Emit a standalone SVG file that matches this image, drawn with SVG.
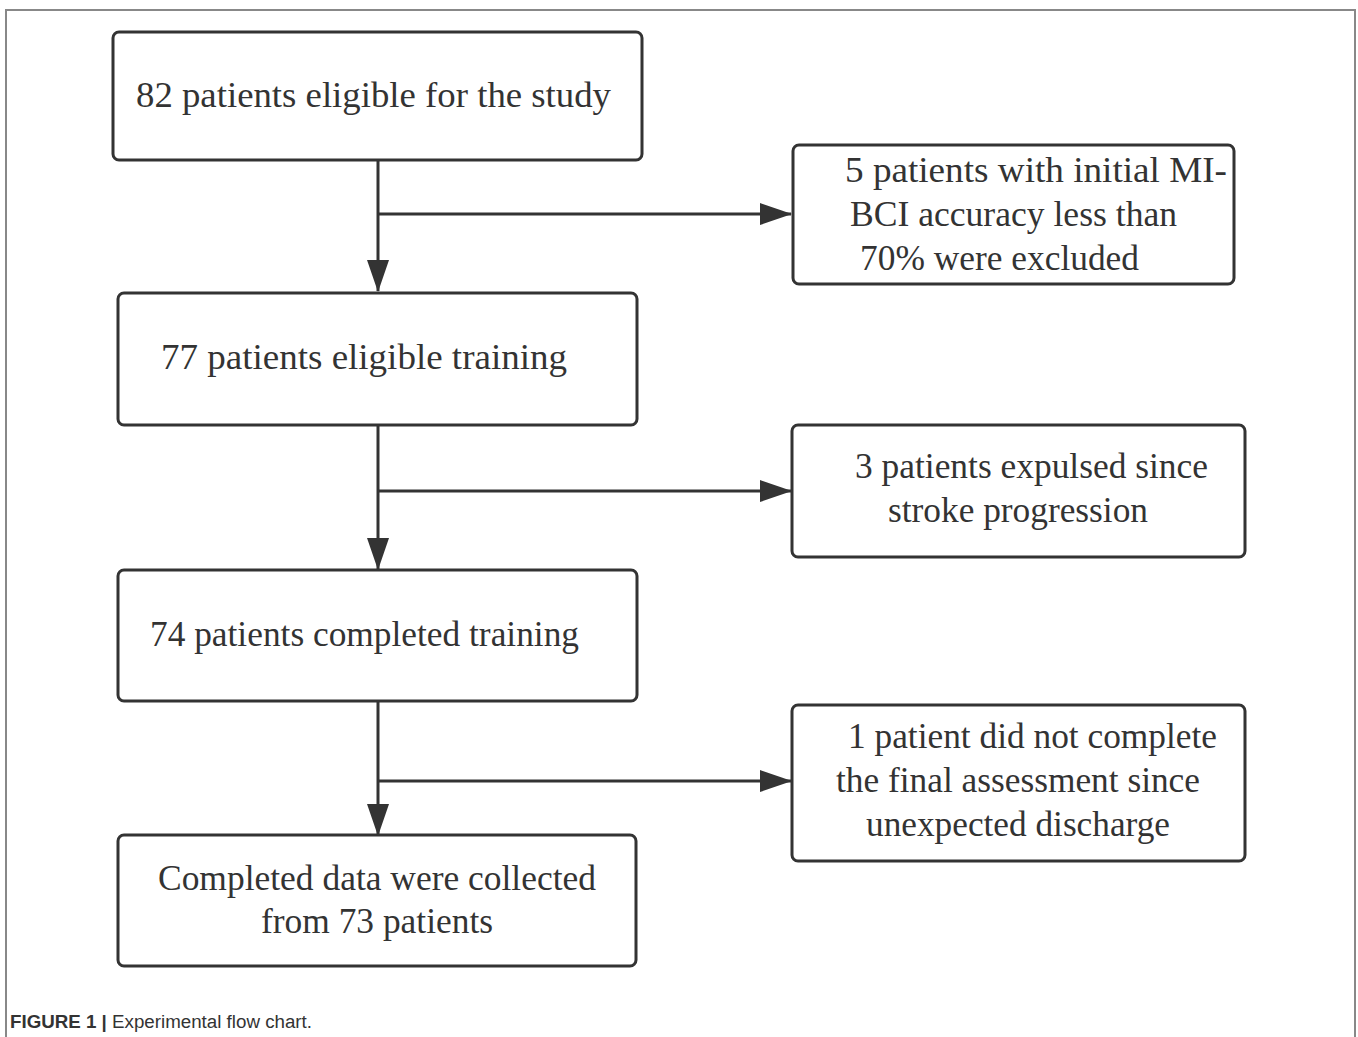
<svg xmlns="http://www.w3.org/2000/svg" width="1358" height="1037" viewBox="0 0 1358 1037">
<style>
.box{fill:#fff;stroke:#333;stroke-width:3}
.t{font-family:"Liberation Serif","Times New Roman",serif;font-size:35px;fill:#333}
.c{stroke:#333;stroke-width:3;fill:none}
.frame{stroke:#888;stroke-width:2;fill:none}
.cap{font-family:"Liberation Sans",Arial,sans-serif;font-size:18px;fill:#333}
</style>
<defs>
<marker id="arr" viewBox="0 0 32 22" markerWidth="32" markerHeight="22" refX="31" refY="11" orient="auto" markerUnits="userSpaceOnUse">
<path d="M0,0 L32,11 L0,22 z" fill="#333"/>
</marker>
</defs>
<rect width="1358" height="1037" fill="#fff"/>
<path class="frame" d="M6,1037 V10 H1355 V1037"/>
<g id="connectors">
<path class="c" d="M378,160 V291" marker-end="url(#arr)"/>
<path class="c" d="M378,214 H791" marker-end="url(#arr)"/>
<path class="c" d="M378,425 V569" marker-end="url(#arr)"/>
<path class="c" d="M378,491 H791" marker-end="url(#arr)"/>
<path class="c" d="M378,701 V835" marker-end="url(#arr)"/>
<path class="c" d="M378,781 H791" marker-end="url(#arr)"/>
</g>
<g id="n1">
<rect class="box" x="113" y="32" width="529" height="128" rx="6"/>
<text class="t" x="136" y="107" textLength="475" lengthAdjust="spacingAndGlyphs">82 patients eligible for the study</text>
</g>
<g id="n2">
<rect class="box" x="793" y="145" width="441" height="139" rx="6"/>
<text class="t" x="845" y="182" textLength="382" lengthAdjust="spacingAndGlyphs">5 patients with initial MI-</text>
<text class="t" x="850" y="226" textLength="327" lengthAdjust="spacingAndGlyphs">BCI accuracy less than</text>
<text class="t" x="860" y="270" textLength="279" lengthAdjust="spacingAndGlyphs">70% were excluded</text>
</g>
<g id="n3">
<rect class="box" x="118" y="293" width="519" height="132" rx="6"/>
<text class="t" x="161" y="369" textLength="406" lengthAdjust="spacingAndGlyphs">77 patients eligible training</text>
</g>
<g id="n4">
<rect class="box" x="792" y="425" width="453" height="132" rx="6"/>
<text class="t" x="855" y="478" textLength="353" lengthAdjust="spacingAndGlyphs">3 patients expulsed since</text>
<text class="t" x="888" y="522" textLength="260" lengthAdjust="spacingAndGlyphs">stroke progression</text>
</g>
<g id="n5">
<rect class="box" x="118" y="570" width="519" height="131" rx="6"/>
<text class="t" x="150" y="646" textLength="429" lengthAdjust="spacingAndGlyphs">74 patients completed training</text>
</g>
<g id="n6">
<rect class="box" x="792" y="705" width="453" height="156" rx="6"/>
<text class="t" x="848" y="748" textLength="369" lengthAdjust="spacingAndGlyphs">1 patient did not complete</text>
<text class="t" x="836" y="792" textLength="364" lengthAdjust="spacingAndGlyphs">the final assessment since</text>
<text class="t" x="866" y="836" textLength="304" lengthAdjust="spacingAndGlyphs">unexpected discharge</text>
</g>
<g id="n7">
<rect class="box" x="118" y="835" width="518" height="131" rx="6"/>
<text class="t" x="158" y="890" textLength="438" lengthAdjust="spacingAndGlyphs">Completed data were collected</text>
<text class="t" x="261" y="933" textLength="232" lengthAdjust="spacingAndGlyphs">from 73 patients</text>
</g>
<text class="cap" x="10" y="1028" textLength="302" lengthAdjust="spacingAndGlyphs"><tspan font-weight="bold">FIGURE 1 | </tspan>Experimental flow chart.</text>
</svg>
